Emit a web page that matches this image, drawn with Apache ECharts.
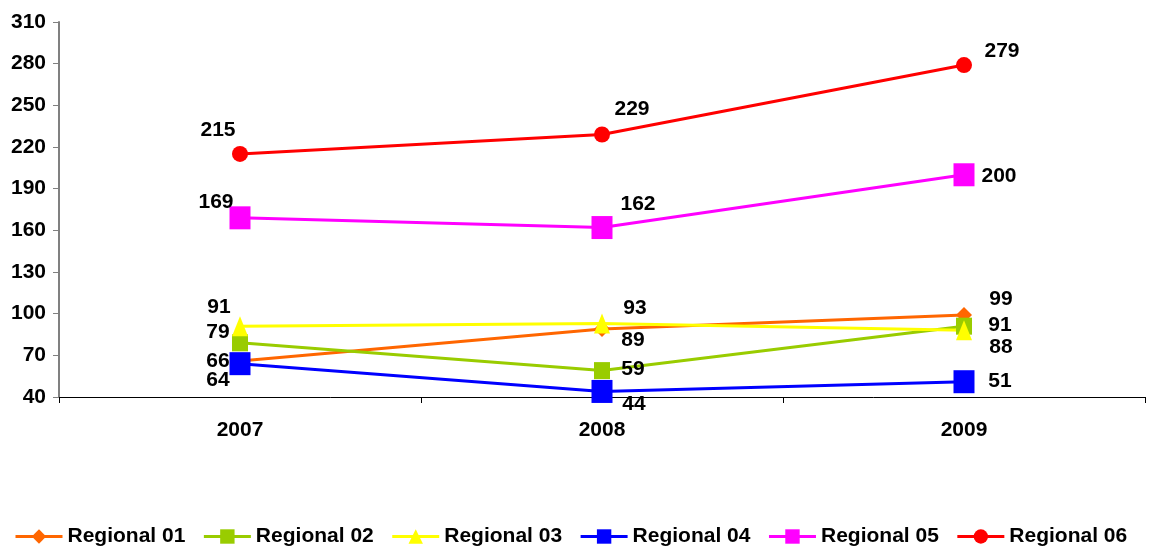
<!DOCTYPE html>
<html>
<head>
<meta charset="utf-8">
<style>
  html, body { margin: 0; padding: 0; background: #fff; }
  #chart { width: 1150px; height: 549px; }
</style>
<script src="https://cdn.jsdelivr.net/npm/echarts@6/dist/echarts.min.js"></script>
</head>
<body>
<div id="chart"></div>
<script>
// Yearly values per region
const years = ['2007', '2008', '2009'];
const regional01 = [66, 89, 99];
const regional02 = [79, 59, 91];
const regional03 = [91, 93, 88];
const regional04 = [64, 44, 51];
const regional05 = [169, 162, 200];
const regional06 = [215, 229, 279];
const seriesNames = ['Regional 01', 'Regional 02', 'Regional 03', 'Regional 04', 'Regional 05', 'Regional 06'];
const yTicks = [40, 310, 30]; // min, max, step

// Per-series look: colour, marker and label offsets for each year
const looks = [
  { color: '#FF6600', symbol: 'diamond',  size: [16, 16], offs: [[-22, 0], [31, 11], [37, -16]] },
  { color: '#99CC00', symbol: 'rect',     size: [16, 17], offs: [[-22, -11], [31, -1], [36, -1]] },
  { color: '#FFFF00', symbol: 'triangle', size: [16, 20], offs: [[-21, -19], [33, -15], [37, 17]] },
  { color: '#0000FF', symbol: 'rect',     size: [21, 23], offs: [[-22, 17], [32, 13], [36, -1]] },
  { color: '#FF00FF', symbol: 'rect',     size: [21, 23], offs: [[-24, -16], [36, -23], [35, 1]] },
  { color: '#FF0000', symbol: 'circle',   size: 16,       offs: [[-22, -24], [30, -25], [38, -14]] }
];
const values = [regional01, regional02, regional03, regional04, regional05, regional06];

const font = 'Liberation Sans, Arial, sans-serif';

const series = values.map((vals, i) => ({
  name: seriesNames[i],
  type: 'line',
  data: vals.map((v, j) => ({
    value: v,
    label: { offset: looks[i].offs[j] }
  })),
  symbol: looks[i].symbol,
  symbolSize: looks[i].size,
  showAllSymbol: true,
  lineStyle: { color: looks[i].color, width: 3 },
  itemStyle: { color: looks[i].color },
  label: {
    show: true,
    position: 'inside',
    color: '#000',
    fontFamily: font,
    fontWeight: 'bold',
    fontSize: 21
  },
  emphasis: { disabled: true },
  animation: false
}));

const chart = echarts.init(document.getElementById('chart'));
chart.setOption({
  backgroundColor: '#fff',
  animation: false,
  grid: { left: 59, right: 5, top: 22, bottom: 152, containLabel: false },
  legend: {
    top: 521,
    left: 9,
    itemWidth: 47,
    itemHeight: 18,
    itemGap: 17,
    lineStyle: { width: 3 },
    textStyle: {
      color: '#000',
      fontFamily: font,
      fontWeight: 'bold',
      fontSize: 21
    },
    data: seriesNames
  },
  xAxis: {
    type: 'category',
    data: years,
    boundaryGap: true,
    axisLine: { lineStyle: { color: '#000', width: 1 } },
    axisTick: { show: true, length: 6, lineStyle: { color: '#000' } },
    axisLabel: {
      margin: 23,
      color: '#000',
      fontFamily: font,
      fontWeight: 'bold',
      fontSize: 21
    },
    splitLine: { show: false }
  },
  yAxis: {
    type: 'value',
    min: yTicks[0],
    max: yTicks[1],
    interval: yTicks[2],
    axisLine: { show: true, lineStyle: { color: '#808080', width: 2 } },
    axisTick: { show: true, length: 6, lineStyle: { color: '#808080' } },
    axisLabel: {
      margin: 13,
      color: '#000',
      fontFamily: font,
      fontWeight: 'bold',
      fontSize: 21
    },
    splitLine: { show: false }
  },
  series: series
});
</script>
</body>
</html>
